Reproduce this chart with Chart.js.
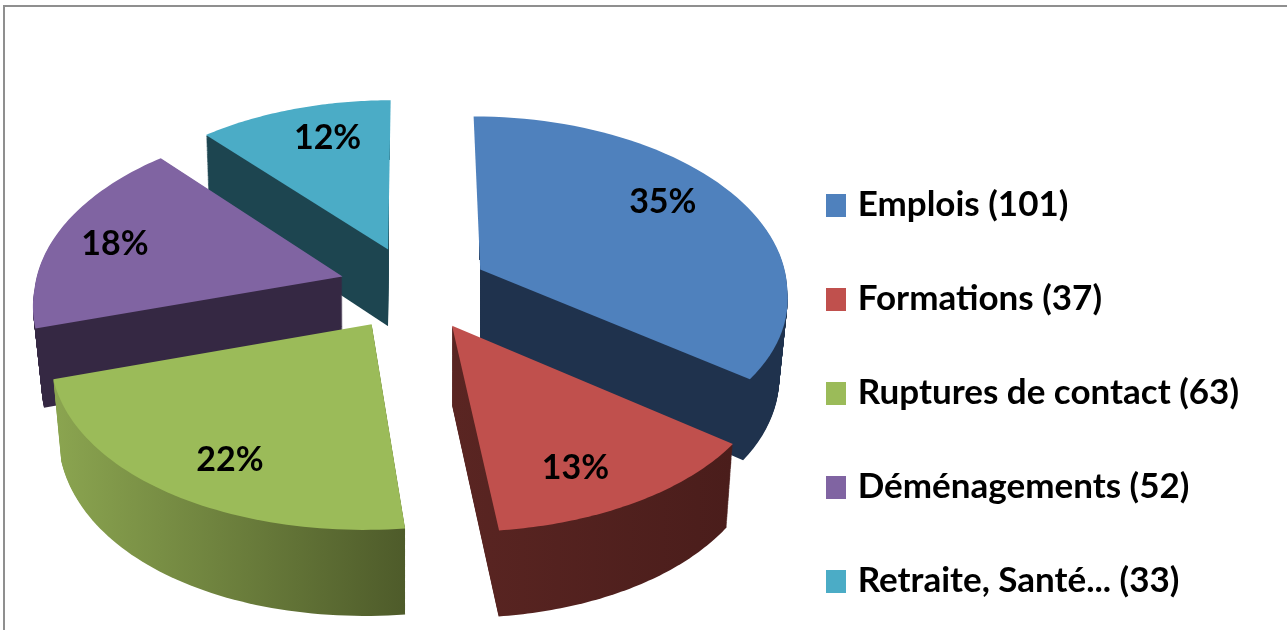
<!DOCTYPE html>
<html lang="fr">
<head>
    <meta charset="UTF-8">
    <title>Sorties</title>
    <script src="https://cdn.jsdelivr.net/npm/chart.js"></script>
    <style>
        html, body { margin: 0; padding: 0; background: #fff; overflow: hidden; }
        #frame { position: absolute; left: 3px; top: 5px; right: 0; bottom: 0; border-left: 2px solid #8f8f8f; border-top: 2px solid #8f8f8f; }
        #chart { position: absolute; left: 0; top: 0; filter: blur(0.6px); }
    </style>
</head>
<body>
    <div id="frame"></div>
    <canvas id="chart" width="1287" height="630"></canvas>
    <script>
        const categories = ['Emplois', 'Formations', 'Ruptures de contact', 'Déménagements', 'Retraite, Santé...'];
        const counts = [101, 37, 63, 52, 33];
        const topColors = ['#4f81bd', '#c0504d', '#9bbb59', '#8064a2', '#4bacc6'];
        const wallLeft = ['#1f324d', '#5a2522', '#8ba550', '#352843', '#1d4550'];
        const wallRight = ['#1f324d', '#4a1d1b', '#4e5b2a', '#352843', '#1d4550'];
        const labelShift = [-7.5, 4, -3.3, -0.5, 4]; // degrees, label position inside each slice
        const labelRadius = [0.77, 0.78, 0.78, 0.795, 0.78];

        const total = counts.reduce((a, b) => a + b, 0);
        const FONT = 'Lato, "Liberation Sans", sans-serif';

        // Office style swatch, used as legend point style so the text can sit close to it
        function swatch(color) {
            const c = document.createElement('canvas');
            c.width = 20;
            c.height = 23;
            const g = c.getContext('2d');
            g.fillStyle = color;
            g.fillRect(0, 0, 20, 23);
            return c;
        }

        // Tilted, exploded pie: takes the angles of the library's arcs and projects them
        const pie3d = {
            id: 'pie3d',
            afterLayout(chart, args, o) {
                const legend = chart.legend;
                legend.top += o.legendShiftY;
                legend.bottom += o.legendShiftY;
                legend.left += o.legendShiftX;
                legend.right += o.legendShiftX;
            },
            beforeDatasetsDraw(chart, args, o) {
                const ctx = chart.ctx;
                const arcs = chart.getDatasetMeta(0).data;

                const project = (u, v) => [
                    o.cx + o.rx * u / (1 - (v > 0 ? o.perspectiveFront : o.perspectiveBack) * v),
                    o.cy + o.ry * v / (1 - o.perspectiveBack * v)
                ];
                const outline = (arc) => {
                    const mid = (arc.startAngle + arc.endAngle) / 2;
                    const ou = Math.cos(mid) * o.explode;
                    const ov = Math.sin(mid) * o.explode;
                    const pts = [project(ou, ov)];
                    const n = 60;
                    for (let i = 0; i <= n; i++) {
                        const a = arc.startAngle + (arc.endAngle - arc.startAngle) * i / n;
                        pts.push(project(ou + Math.cos(a), ov + Math.sin(a)));
                    }
                    return pts;
                };
                const fillPts = (pts, style, d) => {
                    ctx.beginPath();
                    pts.forEach((p, i) => {
                        const dx = p[0] - o.cx;
                        const x = p[0] - o.taper * (d / o.depth) * dx * Math.abs(dx) / 300;
                        const y = p[1] + d * (1 + o.depthGrow * (p[1] - o.cy) / o.ry);
                        if (i === 0) ctx.moveTo(x, y);
                        else ctx.lineTo(x, y);
                    });
                    ctx.closePath();
                    ctx.fillStyle = style;
                    ctx.fill();
                };

                // back to front
                [4, 3, 0, 2, 1].forEach((i) => {
                    const pts = outline(arcs[i]);
                    const xs = pts.map(p => p[0]);
                    const grad = ctx.createLinearGradient(Math.min(...xs), 0, Math.max(...xs), 0);
                    grad.addColorStop(0, wallLeft[i]);
                    grad.addColorStop(1, wallRight[i]);
                    ctx.save();
                    // an edge that runs up to the back hides the wall behind it
                    const tip = pts[0];
                    if (Math.sin(arcs[i].startAngle) < -0.99) {
                        ctx.beginPath();
                        ctx.moveTo(pts[1][0], 0);
                        ctx.lineTo(chart.width, 0);
                        ctx.lineTo(chart.width, chart.height);
                        ctx.lineTo(tip[0], chart.height);
                        ctx.lineTo(tip[0], tip[1]);
                        ctx.closePath();
                        ctx.clip();
                    } else if (Math.sin(arcs[i].endAngle) < -0.99) {
                        ctx.beginPath();
                        ctx.moveTo(pts[pts.length - 1][0], 0);
                        ctx.lineTo(0, 0);
                        ctx.lineTo(0, chart.height);
                        ctx.lineTo(tip[0], chart.height);
                        ctx.lineTo(tip[0], tip[1]);
                        ctx.closePath();
                        ctx.clip();
                    }
                    for (let d = o.depth; d > 0; d--) fillPts(pts, grad, d);
                    ctx.restore();
                    fillPts(pts, topColors[i], 0);
                });

                ctx.fillStyle = '#000';
                ctx.font = 'bold ' + o.labelSize + 'px ' + FONT;
                ctx.textAlign = 'center';
                ctx.textBaseline = 'middle';
                arcs.forEach((arc, i) => {
                    const mid = (arc.startAngle + arc.endAngle) / 2;
                    const a = mid + labelShift[i] * Math.PI / 180;
                    const p = project(
                        Math.cos(mid) * o.explode + Math.cos(a) * labelRadius[i],
                        Math.sin(mid) * o.explode + Math.sin(a) * labelRadius[i]
                    );
                    ctx.fillText(Math.round(counts[i] / total * 100) + '%', p[0], p[1] + 2.5);
                });
                return false;
            }
        };

        new Chart(document.getElementById('chart'), {
            type: 'pie',
            data: {
                labels: categories.map((c, i) => c + ' (' + counts[i] + ')'),
                datasets: [{ data: counts, backgroundColor: topColors, borderWidth: 0 }]
            },
            options: {
                responsive: false,
                animation: false,
                plugins: {
                    tooltip: { enabled: false },
                    legend: {
                        position: 'right',
                        labels: {
                            usePointStyle: true,
                            pointStyleWidth: 8,
                            padding: 59,
                            color: '#000',
                            font: { family: FONT, size: 35, weight: 'bold' },
                            generateLabels(chart) {
                                const items = Chart.overrides.pie.plugins.legend.labels.generateLabels(chart);
                                return items.map((it, i) => ({ ...it, pointStyle: swatch(topColors[i]) }));
                            }
                        }
                    },
                    pie3d: {
                        cx: 414, cy: 288, rx: 308, ry: 174,
                        perspectiveFront: 0.14, perspectiveBack: 0.112, explode: 0.243,
                        depth: 78, depthGrow: 0.074, taper: 0.018,
                        labelSize: 34,
                        legendShiftX: -38, legendShiftY: 78
                    }
                }
            },
            plugins: [pie3d]
        });
    </script>
</body>
</html>
